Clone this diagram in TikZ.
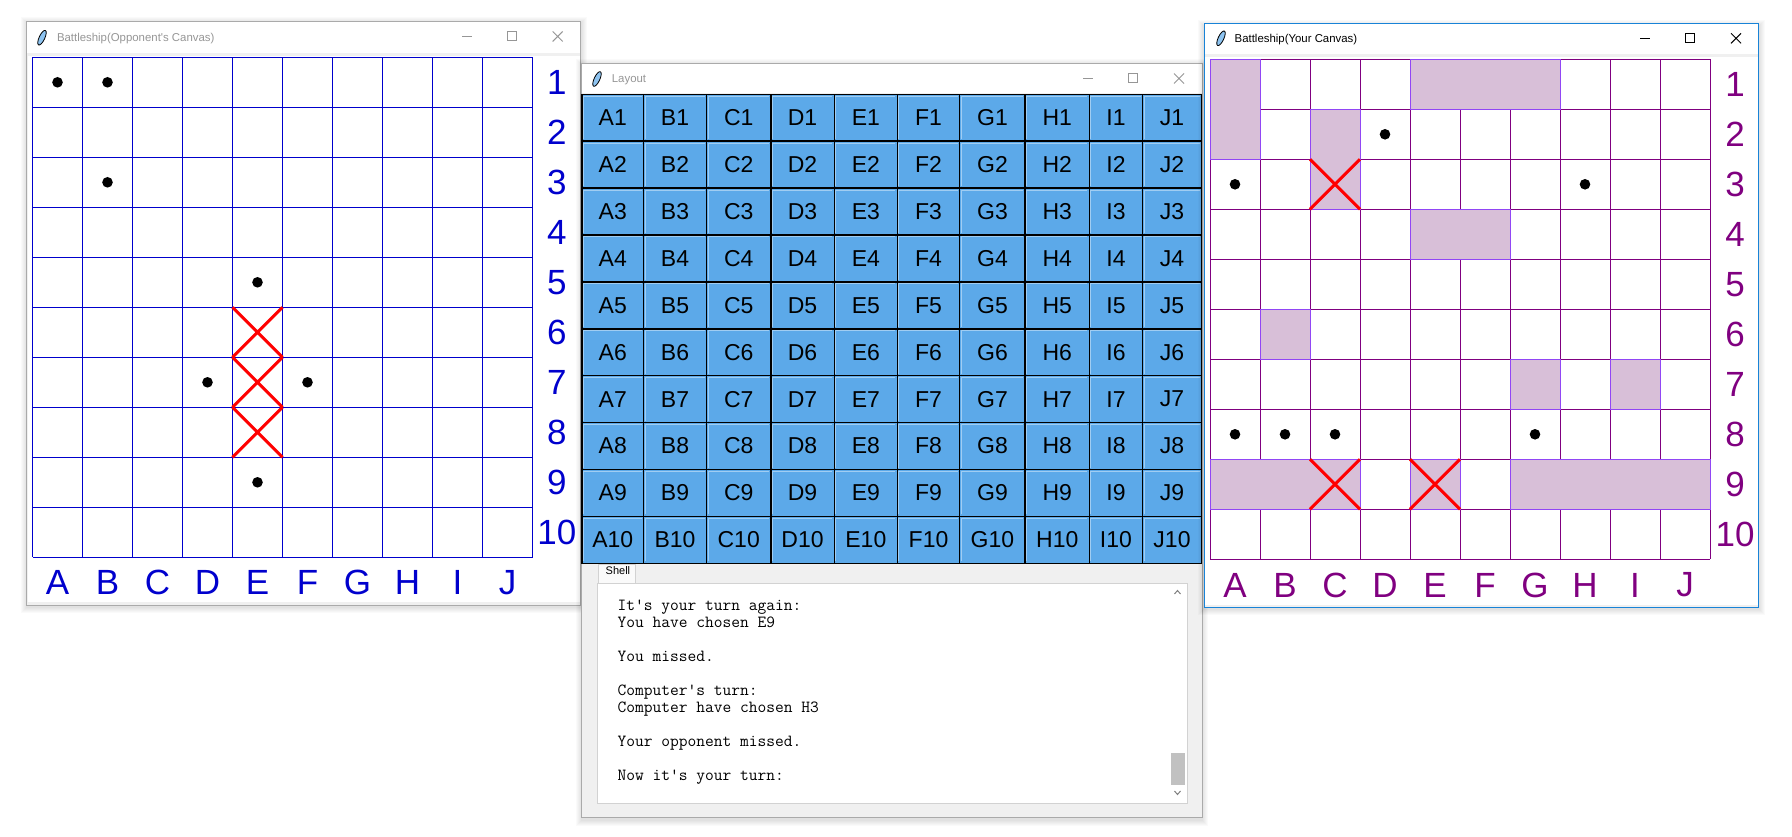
\documentclass[tikz,border=0pt]{standalone}
\usepackage{fontspec}
\setmainfont{Liberation Sans}
\usetikzlibrary{positioning}

\definecolor{oppblue}{RGB}{0,0,205}
\definecolor{ownpurple}{RGB}{128,0,128}
\definecolor{shipfill}{RGB}{216,191,216}
\definecolor{shipedge}{RGB}{145,70,245}
\definecolor{btnblue}{RGB}{92,169,233}
\definecolor{btnlight}{RGB}{160,205,242}
\definecolor{framegray}{RGB}{240,240,240}
\definecolor{edgegray}{RGB}{170,170,170}
\definecolor{activeedge}{RGB}{24,131,215}
\definecolor{titlegray}{RGB}{150,150,150}
\definecolor{thumbgray}{RGB}{193,193,193}
\definecolor{boxgray}{RGB}{210,210,210}

\newcommand{\feather}[2]{%
  \draw[fill=btnblue!70!white, draw=black, line width=0.8pt, rotate around={65:(#1,#2)}] (#1,#2) ellipse (8 and 2.8);}
\newcommand{\winshadow}[4]{%
  \foreach \s in {1,...,6}
    \fill[black, opacity=0.018] (#1-\s, #2-\s+2) rectangle (#3+\s, #4+\s+2);}

\begin{document}
\begin{tikzpicture}[
    x=1pt, y=-1pt,
    oppgrid/.style={draw=oppblue, line width=1pt},
    owngrid/.style={draw=ownpurple, line width=1pt},
    ship/.style={fill=shipfill, draw=shipedge, line width=1pt},
    hitmark/.style={draw=red, line width=3pt},
    miss/.style={fill=black},
    opplabel/.style={text=oppblue, font=\fontsize{35}{35}\selectfont, inner sep=0pt},
    ownlabel/.style={text=ownpurple, font=\fontsize{35}{35}\selectfont, inner sep=0pt},
    winframe/.style={fill=framegray, draw=edgegray, line width=1pt},
    titletext/.style={anchor=base west, font=\fontsize{11.4}{12}\selectfont, inner sep=0pt},
    tbtn/.style={draw=titlegray, line width=1pt},
    button/.style={fill=btnblue, draw=black, line width=1.5pt},
    btnhi/.style={draw=btnlight, line width=1pt},
    btntext/.style={font=\fontsize{23}{23}\selectfont, inner sep=0pt},
    shelltext/.style={anchor=base west, font=\ttfamily\fontsize{17}{17}\selectfont, inner sep=0pt}
]
\fill[white] (0,0) rectangle (1792,837);
\useasboundingbox (0,0) rectangle (1792,837);

% Opponent's canvas window
\winshadow{26.5}{21.5}{580.7}{605}
\draw[winframe] (26.5,21.5) rectangle (580.7,605);
\fill[white] (27,22) rectangle (580.2,52.7);
\fill[white] (27.5,56.5) rectangle (579.5,601.5);
\feather{42}{37.7}
\node[titletext, text=titlegray] (opp title) at (56.8,42) {Battleship(Opponent\textquotesingle s Canvas)};
\draw[tbtn] (462,36.5) -- (472,36.5);
\draw[tbtn] (507.5,32) rectangle (516.5,41);
\draw[tbtn] (552.7,31.5) -- (562.7,41.5) (552.7,41.5) -- (562.7,31.5);

\foreach \i in {0,...,10} {
  \draw[oppgrid] (32.5+50*\i,57.3) -- (32.5+50*\i,557.3);
  \draw[oppgrid] (32.5,57.3+50*\i) -- (532.5,57.3+50*\i);
}
\foreach \l [count=\i from 0] in {A,...,J}
  \node[opplabel] (opp col \l) at (57.5+50*\i,582.7) {\l};
\foreach \r in {1,...,10}
  \node[opplabel] (opp row \r) at (556.8,32.3+50*\r) {\r};
\foreach \c/\r in {0/1,1/1,1/3,4/5,3/7,5/7,4/9}
  \fill[miss] (57.5+50*\c,32.3+50*\r) circle (5.3);
\foreach \r in {6,7,8}
  \draw[hitmark] (232.5,7.3+50*\r) -- ++(50,50) ++(0,-50) -- ++(-50,50);

% Layout window
\winshadow{581.5}{63.3}{1202.3}{817.7}
\draw[winframe] (581.5,63.3) rectangle (1202.3,817.7);
\fill[white] (582,63.8) rectangle (1201.8,93.3);
\feather{597}{79}
\node[titletext, text=titlegray] (layout title) at (611.7,83) {Layout};
\draw[tbtn] (1083,78.5) -- (1093,78.5);
\draw[tbtn] (1128.5,74) rectangle (1137.5,83);
\draw[tbtn] (1174,73.5) -- (1184,83.5) (1174,83.5) -- (1184,73.5);

\foreach \l/\xa/\xb in {A/582/643.5, B/643.5/706.6, C/706.6/770.8, D/770.8/834.3, E/834.3/897.4,
                        F/897.4/959.7, G/959.7/1025.2, H/1025.2/1089.4, I/1089.4/1142.5, J/1142.5/1201.5} {
  \foreach \r in {1,...,10} {
    \draw[button] (\xa,47.4+46.9*\r) rectangle (\xb,94.3+46.9*\r);
    \draw[btnhi] (\xa+1.5,92.3+46.9*\r) -- (\xa+1.5,49.4+46.9*\r) -- (\xb-2,49.4+46.9*\r);
    \node[btntext] (btn \l\r) at ({(\xa+\xb)/2},70.85+46.9*\r) {\l\r};
  }
}

% Shell
\draw[draw=boxgray, fill=white] (597,582.7) rectangle (1186.7,803.3);
\draw[draw=boxgray, fill={rgb,255:red,250;green,250;blue,250}] (598.5,583) -- (598.5,564.5) -- (635.5,564.5) -- (635.5,583);
\node[titletext, font=\fontsize{11}{12}\selectfont] (shell tab) at (605.5,574) {Shell};
\fill[thumbgray] (1170.5,753) rectangle (1184.5,785);
\draw[draw=gray, line width=1pt] (1174.5,594) -- (1177.5,590.5) -- (1180.5,594);
\draw[draw=gray, line width=1pt] (1174.5,791) -- (1177.5,794.5) -- (1180.5,791);
\foreach \t/\i in {It\textquotesingle s your turn again:/0, You have chosen E9/1, You missed./3,
                   Computer\textquotesingle s turn:/5, Computer have chosen H3/6,
                   Your opponent missed./8, Now it\textquotesingle s your turn:/10}
  \node[shelltext] (shell line \i) at (617.4,610+17*\i) {\t};

% Your canvas window
\winshadow{1204.3}{24}{1758.5}{607}
\draw[winframe, draw=activeedge] (1204.3,24) rectangle (1758.5,607);
\fill[white] (1204.8,24.5) rectangle (1758,54.3);
\fill[white] (1205.3,56.8) rectangle (1757.5,604.5);
\feather{1221}{38.3}
\node[titletext] (own title) at (1234.5,42.5) {Battleship(Your Canvas)};
\draw[tbtn, draw=black] (1640,38.3) -- (1650,38.3);
\draw[tbtn, draw=black] (1685.5,33.8) rectangle (1694.5,42.8);
\draw[tbtn, draw=black] (1731,33.3) -- (1741,43.3) (1731,43.3) -- (1741,33.3);

\foreach \i in {0,...,10} {
  \draw[owngrid] (1210+50*\i,59.3) -- (1210+50*\i,559.3);
  \draw[owngrid] (1210,59.3+50*\i) -- (1710,59.3+50*\i);
}
\foreach \c/\r/\w/\h in {0/1/1/2, 4/1/3/1, 2/2/1/2, 4/4/2/1, 1/6/1/1,
                         6/7/1/1, 8/7/1/1, 0/9/3/1, 4/9/1/1, 6/9/4/1}
  \draw[ship] (1210+50*\c,9.3+50*\r) rectangle ++(50*\w,50*\h);
\foreach \l [count=\i from 0] in {A,...,J}
  \node[ownlabel] (own col \l) at (1235+50*\i,585) {\l};
\foreach \r in {1,...,10}
  \node[ownlabel] (own row \r) at (1735,34.3+50*\r) {\r};
\foreach \c/\r in {3/2,0/3,7/3,0/8,1/8,2/8,6/8}
  \fill[miss] (1235+50*\c,34.3+50*\r) circle (5.3);
\foreach \c/\r in {2/3,2/9,4/9}
  \draw[hitmark] (1210+50*\c,9.3+50*\r) -- ++(50,50) ++(0,-50) -- ++(-50,50);

\end{tikzpicture}
\end{document}
